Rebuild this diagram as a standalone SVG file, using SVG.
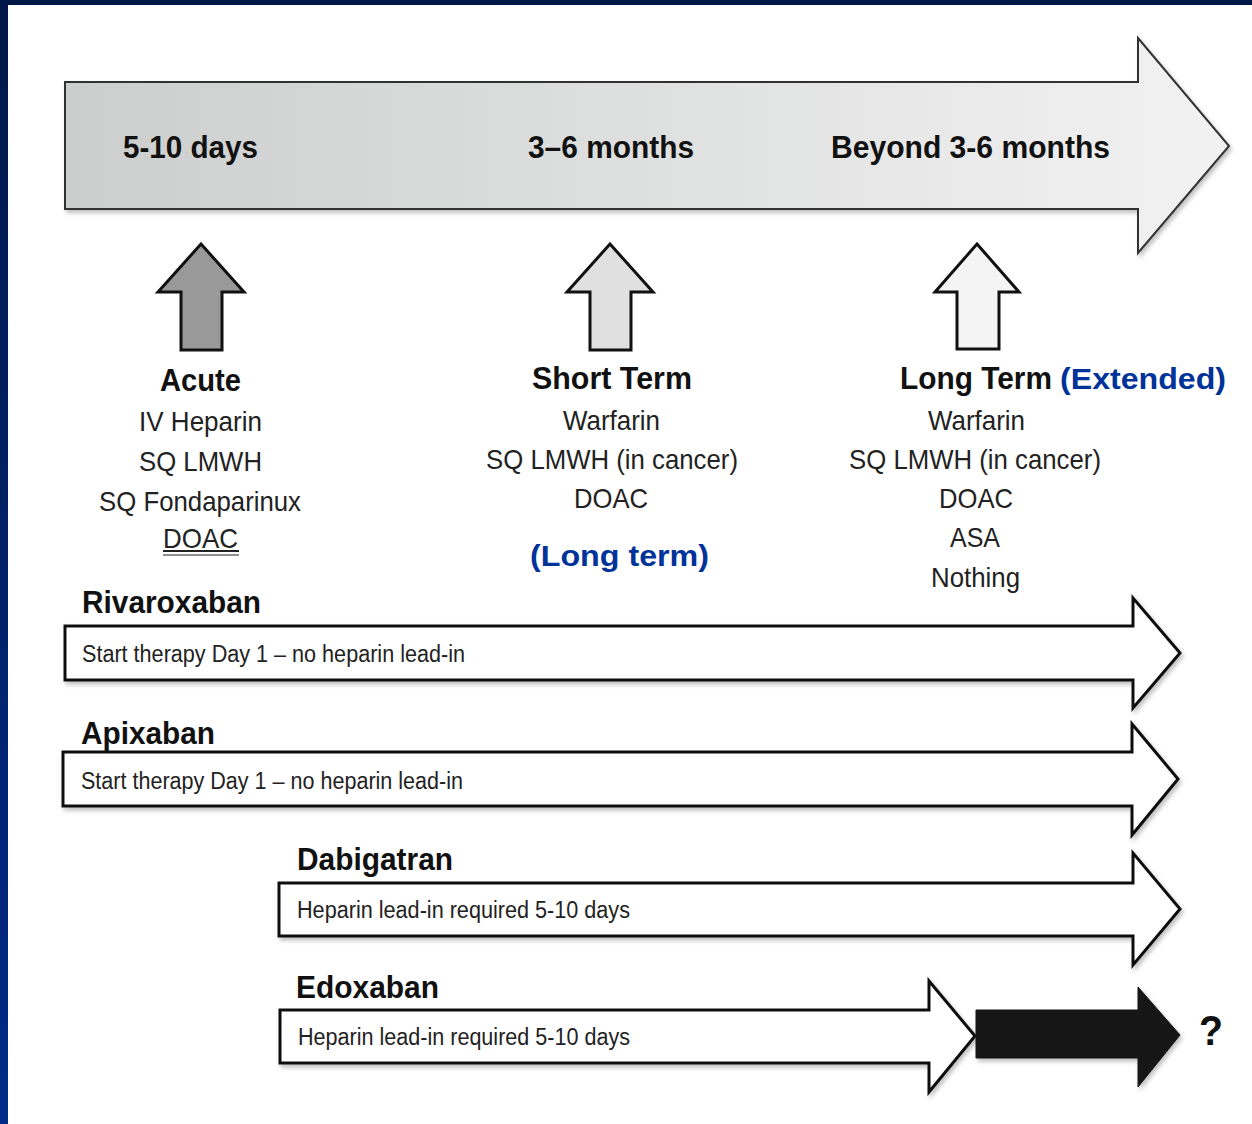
<svg xmlns="http://www.w3.org/2000/svg" width="1252" height="1124" viewBox="0 0 1252 1124">
<defs>
<linearGradient id="bg" x1="0" y1="0" x2="0" y2="1">
<stop offset="0" stop-color="#001848"/>
<stop offset="1" stop-color="#002a88"/>
</linearGradient>
<linearGradient id="mainfill" x1="0" y1="0" x2="1" y2="0">
<stop offset="0" stop-color="#cccdcd"/>
<stop offset="1" stop-color="#f2f2f2"/>
</linearGradient>
<filter id="sh" x="-5%" y="-5%" width="110%" height="120%">
<feDropShadow dx="2" dy="3" stdDeviation="2" flood-color="#000" flood-opacity="0.25"/>
</filter>
<style>
.hd{font-family:"Liberation Sans",Arial,sans-serif;font-weight:bold;fill:#111;}
.it{font-family:"Liberation Sans",Arial,sans-serif;fill:#222;}
.bl{font-family:"Liberation Sans",Arial,sans-serif;font-weight:bold;fill:#003399;}
.up{stroke:#111;stroke-width:3;stroke-linejoin:miter;}
.bar{fill:#fff;stroke:#111;stroke-width:3;stroke-linejoin:miter;}
</style>
</defs>
<rect x="0" y="0" width="1252" height="1124" fill="url(#bg)"/>
<rect x="8" y="5" width="1244" height="1119" fill="#ffffff"/>

<g id="timeline">
<path d="M65,82 H1138 V38 L1229,146 L1138,253 V209 H65 Z" fill="url(#mainfill)" stroke="#333" stroke-width="2" filter="url(#sh)"/>
<text class="hd" x="123" y="158" font-size="32" textLength="135" lengthAdjust="spacingAndGlyphs">5-10 days</text>
<text class="hd" x="528" y="158" font-size="32" textLength="166" lengthAdjust="spacingAndGlyphs">3–6 months</text>
<text class="hd" x="831" y="158" font-size="32" textLength="279" lengthAdjust="spacingAndGlyphs">Beyond 3-6 months</text>
</g>

<g id="acute">
<path class="up" d="M201,244 L244,292 H222 V350 H181 V292 H158 Z" fill="#999999"/>
<text class="hd" x="160" y="391" font-size="32" textLength="81" lengthAdjust="spacingAndGlyphs">Acute</text>
<text class="it" x="139" y="431" font-size="28" textLength="123" lengthAdjust="spacingAndGlyphs">IV Heparin</text>
<text class="it" x="139" y="471" font-size="28" textLength="123" lengthAdjust="spacingAndGlyphs">SQ LMWH</text>
<text class="it" x="99" y="511" font-size="28" textLength="202" lengthAdjust="spacingAndGlyphs">SQ Fondaparinux</text>
<text class="it" x="163" y="548" font-size="28" textLength="75" lengthAdjust="spacingAndGlyphs">DOAC</text>
<line x1="163" y1="551" x2="239" y2="551" stroke="#222" stroke-width="2"/>
<line x1="163" y1="555" x2="239" y2="555" stroke="#222" stroke-width="1.2"/>
</g>

<g id="short-term">
<path class="up" d="M610,244 L653,292 H631 V350 H590 V292 H567 Z" fill="#e0e0e0"/>
<text class="hd" x="532" y="389" font-size="32" textLength="160" lengthAdjust="spacingAndGlyphs">Short Term</text>
<text class="it" x="563" y="430" font-size="28" textLength="97" lengthAdjust="spacingAndGlyphs">Warfarin</text>
<text class="it" x="486" y="469" font-size="28" textLength="252" lengthAdjust="spacingAndGlyphs">SQ LMWH (in cancer)</text>
<text class="it" x="574" y="508" font-size="28" textLength="74" lengthAdjust="spacingAndGlyphs">DOAC</text>
<text class="bl" x="530" y="566" font-size="30" textLength="179" lengthAdjust="spacingAndGlyphs">(Long term)</text>
</g>

<g id="long-term">
<path class="up" d="M977,244 L1019,292 H999 V349 H957 V292 H935 Z" fill="#f4f4f4"/>
<text class="hd" x="900" y="389" font-size="32" textLength="152" lengthAdjust="spacingAndGlyphs">Long Term</text>
<text class="bl" x="1060" y="389" font-size="30" textLength="166" lengthAdjust="spacingAndGlyphs">(Extended)</text>
<text class="it" x="928" y="430" font-size="28" textLength="97" lengthAdjust="spacingAndGlyphs">Warfarin</text>
<text class="it" x="849" y="469" font-size="28" textLength="252" lengthAdjust="spacingAndGlyphs">SQ LMWH (in cancer)</text>
<text class="it" x="939" y="508" font-size="28" textLength="74" lengthAdjust="spacingAndGlyphs">DOAC</text>
<text class="it" x="950" y="547" font-size="28" textLength="50" lengthAdjust="spacingAndGlyphs">ASA</text>
<text class="it" x="931" y="587" font-size="28" textLength="89" lengthAdjust="spacingAndGlyphs">Nothing</text>
</g>

<g id="rivaroxaban">
<text class="hd" x="82" y="613" font-size="32" textLength="179" lengthAdjust="spacingAndGlyphs">Rivaroxaban</text>
<path class="bar" d="M65,626 H1133 V598 L1180,653 L1133,708 V680 H65 Z" filter="url(#sh)"/>
<text class="it" x="82" y="662" font-size="23" textLength="383" lengthAdjust="spacingAndGlyphs">Start therapy Day 1 – no heparin lead-in</text>
</g>

<g id="apixaban">
<text class="hd" x="81" y="744" font-size="32" textLength="134" lengthAdjust="spacingAndGlyphs">Apixaban</text>
<path class="bar" d="M63,752 H1132 V724 L1178,779 L1132,835 V806 H63 Z" filter="url(#sh)"/>
<text class="it" x="81" y="789" font-size="23" textLength="382" lengthAdjust="spacingAndGlyphs">Start therapy Day 1 – no heparin lead-in</text>
</g>

<g id="dabigatran">
<text class="hd" x="297" y="870" font-size="32" textLength="156" lengthAdjust="spacingAndGlyphs">Dabigatran</text>
<path class="bar" d="M279,883 H1133 V853 L1180,909 L1133,965 V936 H279 Z" filter="url(#sh)"/>
<text class="it" x="297" y="918" font-size="23" textLength="333" lengthAdjust="spacingAndGlyphs">Heparin lead-in required 5-10 days</text>
</g>

<g id="edoxaban">
<text class="hd" x="296" y="998" font-size="32" textLength="143" lengthAdjust="spacingAndGlyphs">Edoxaban</text>
<path class="bar" d="M280,1010 H929 V981 L975,1036 L929,1092 V1063 H280 Z" filter="url(#sh)"/>
<text class="it" x="298" y="1045" font-size="23" textLength="332" lengthAdjust="spacingAndGlyphs">Heparin lead-in required 5-10 days</text>
</g>

<g id="edoxaban-extended">
<path d="M976,1010 H1138 V987 L1180,1035 L1138,1087 V1058 H976 Z" fill="#151515" stroke="#151515" stroke-width="1" filter="url(#sh)"/>
<text class="hd" x="1199" y="1045" font-size="42" textLength="24" lengthAdjust="spacingAndGlyphs">?</text>
</g>

<g id="connectors"></g>
</svg>
